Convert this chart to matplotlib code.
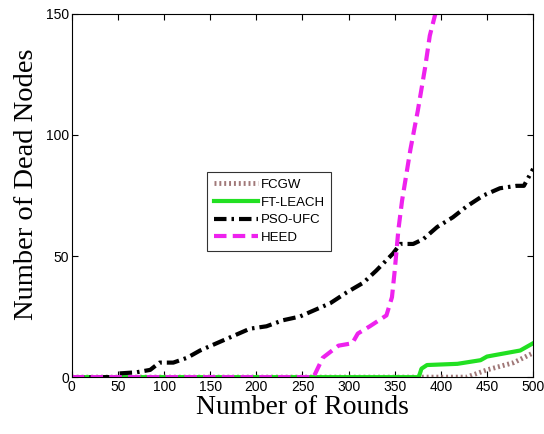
import matplotlib.pyplot as plt
import numpy as np

# values
pso_x = [0, 48, 50, 70, 85, 95, 110, 125, 139, 157, 175, 193, 211, 229, 247, 265, 280, 298, 316, 330, 348, 356, 370, 381, 396, 413, 428, 446, 464, 482, 490, 500]
pso_y = [0, 0, 1.5, 2, 3, 6, 6, 8, 11, 14, 17, 20, 21, 23.5, 25, 28, 30.5, 35, 39, 44, 51, 55, 55, 57, 62, 66, 70.5, 75, 78, 79, 79, 86]

heed_x = [0, 262, 272, 289, 304, 310, 323, 341, 347, 350, 354, 358, 367, 375, 383, 388, 394]
heed_y = [0, 0, 8, 13, 14, 18, 21, 25.5, 33, 44, 61, 73, 94, 110, 128, 141, 150]

ftleach_x = [0, 376, 379, 385, 418, 443, 450, 457, 486, 500]
ftleach_y = [0, 0, 3.5, 5, 5.5, 7, 8.5, 9, 11, 14]

fcgw_x = [0, 428, 450, 479, 500]
fcgw_y = [0, 0, 3, 6, 10]

plt.rcParams['font.family'] = ['Liberation Sans', 'DejaVu Sans']

fig = plt.figure(figsize=(5.44, 4.34), dpi=100)
ax = fig.add_axes([0.132, 0.131, 0.848, 0.837])

ax.plot(fcgw_x, fcgw_y, color='#a07878', lw=3.5, linestyle=(0, (0.4, 0.6)), label='FCGW')
ax.plot(ftleach_x, ftleach_y, color='#22e022', lw=3, linestyle='-', label='FT-LEACH')
ax.plot(pso_x, pso_y, color='black', lw=3, linestyle=(0, (3, 1.2, 0.6, 1.2)), label='PSO-UFC')
ax.plot(heed_x, heed_y, color='#ee22ee', lw=3, linestyle=(0, (3, 1.5)), label='HEED')

ax.set_xlim(0, 500)
ax.set_ylim(0, 150)
ax.set_xticks(np.arange(0, 501, 50))
ax.set_yticks([0, 50, 100, 150])
ax.tick_params(direction='in', top=True, right=True, labelsize=10, length=4, pad=2)
for s in ax.spines.values():
    s.set_linewidth(0.8)

ax.set_xlabel('Number of Rounds', family='Liberation Serif', fontsize=20, labelpad=1)
ax.set_ylabel('Number of Dead Nodes', family='Liberation Serif', fontsize=20.5)
ax.yaxis.set_label_coords(-0.072, 0.53)

leg = ax.legend(loc='upper left', bbox_to_anchor=(0.293, 0.565), fontsize=9.5, frameon=True,
                fancybox=False, edgecolor='black', handlelength=3.4, handletextpad=0.15,
                borderpad=0.5, labelspacing=0.42, borderaxespad=0)
leg.get_frame().set_linewidth(0.8)

fig.savefig('out.png', dpi=100)
